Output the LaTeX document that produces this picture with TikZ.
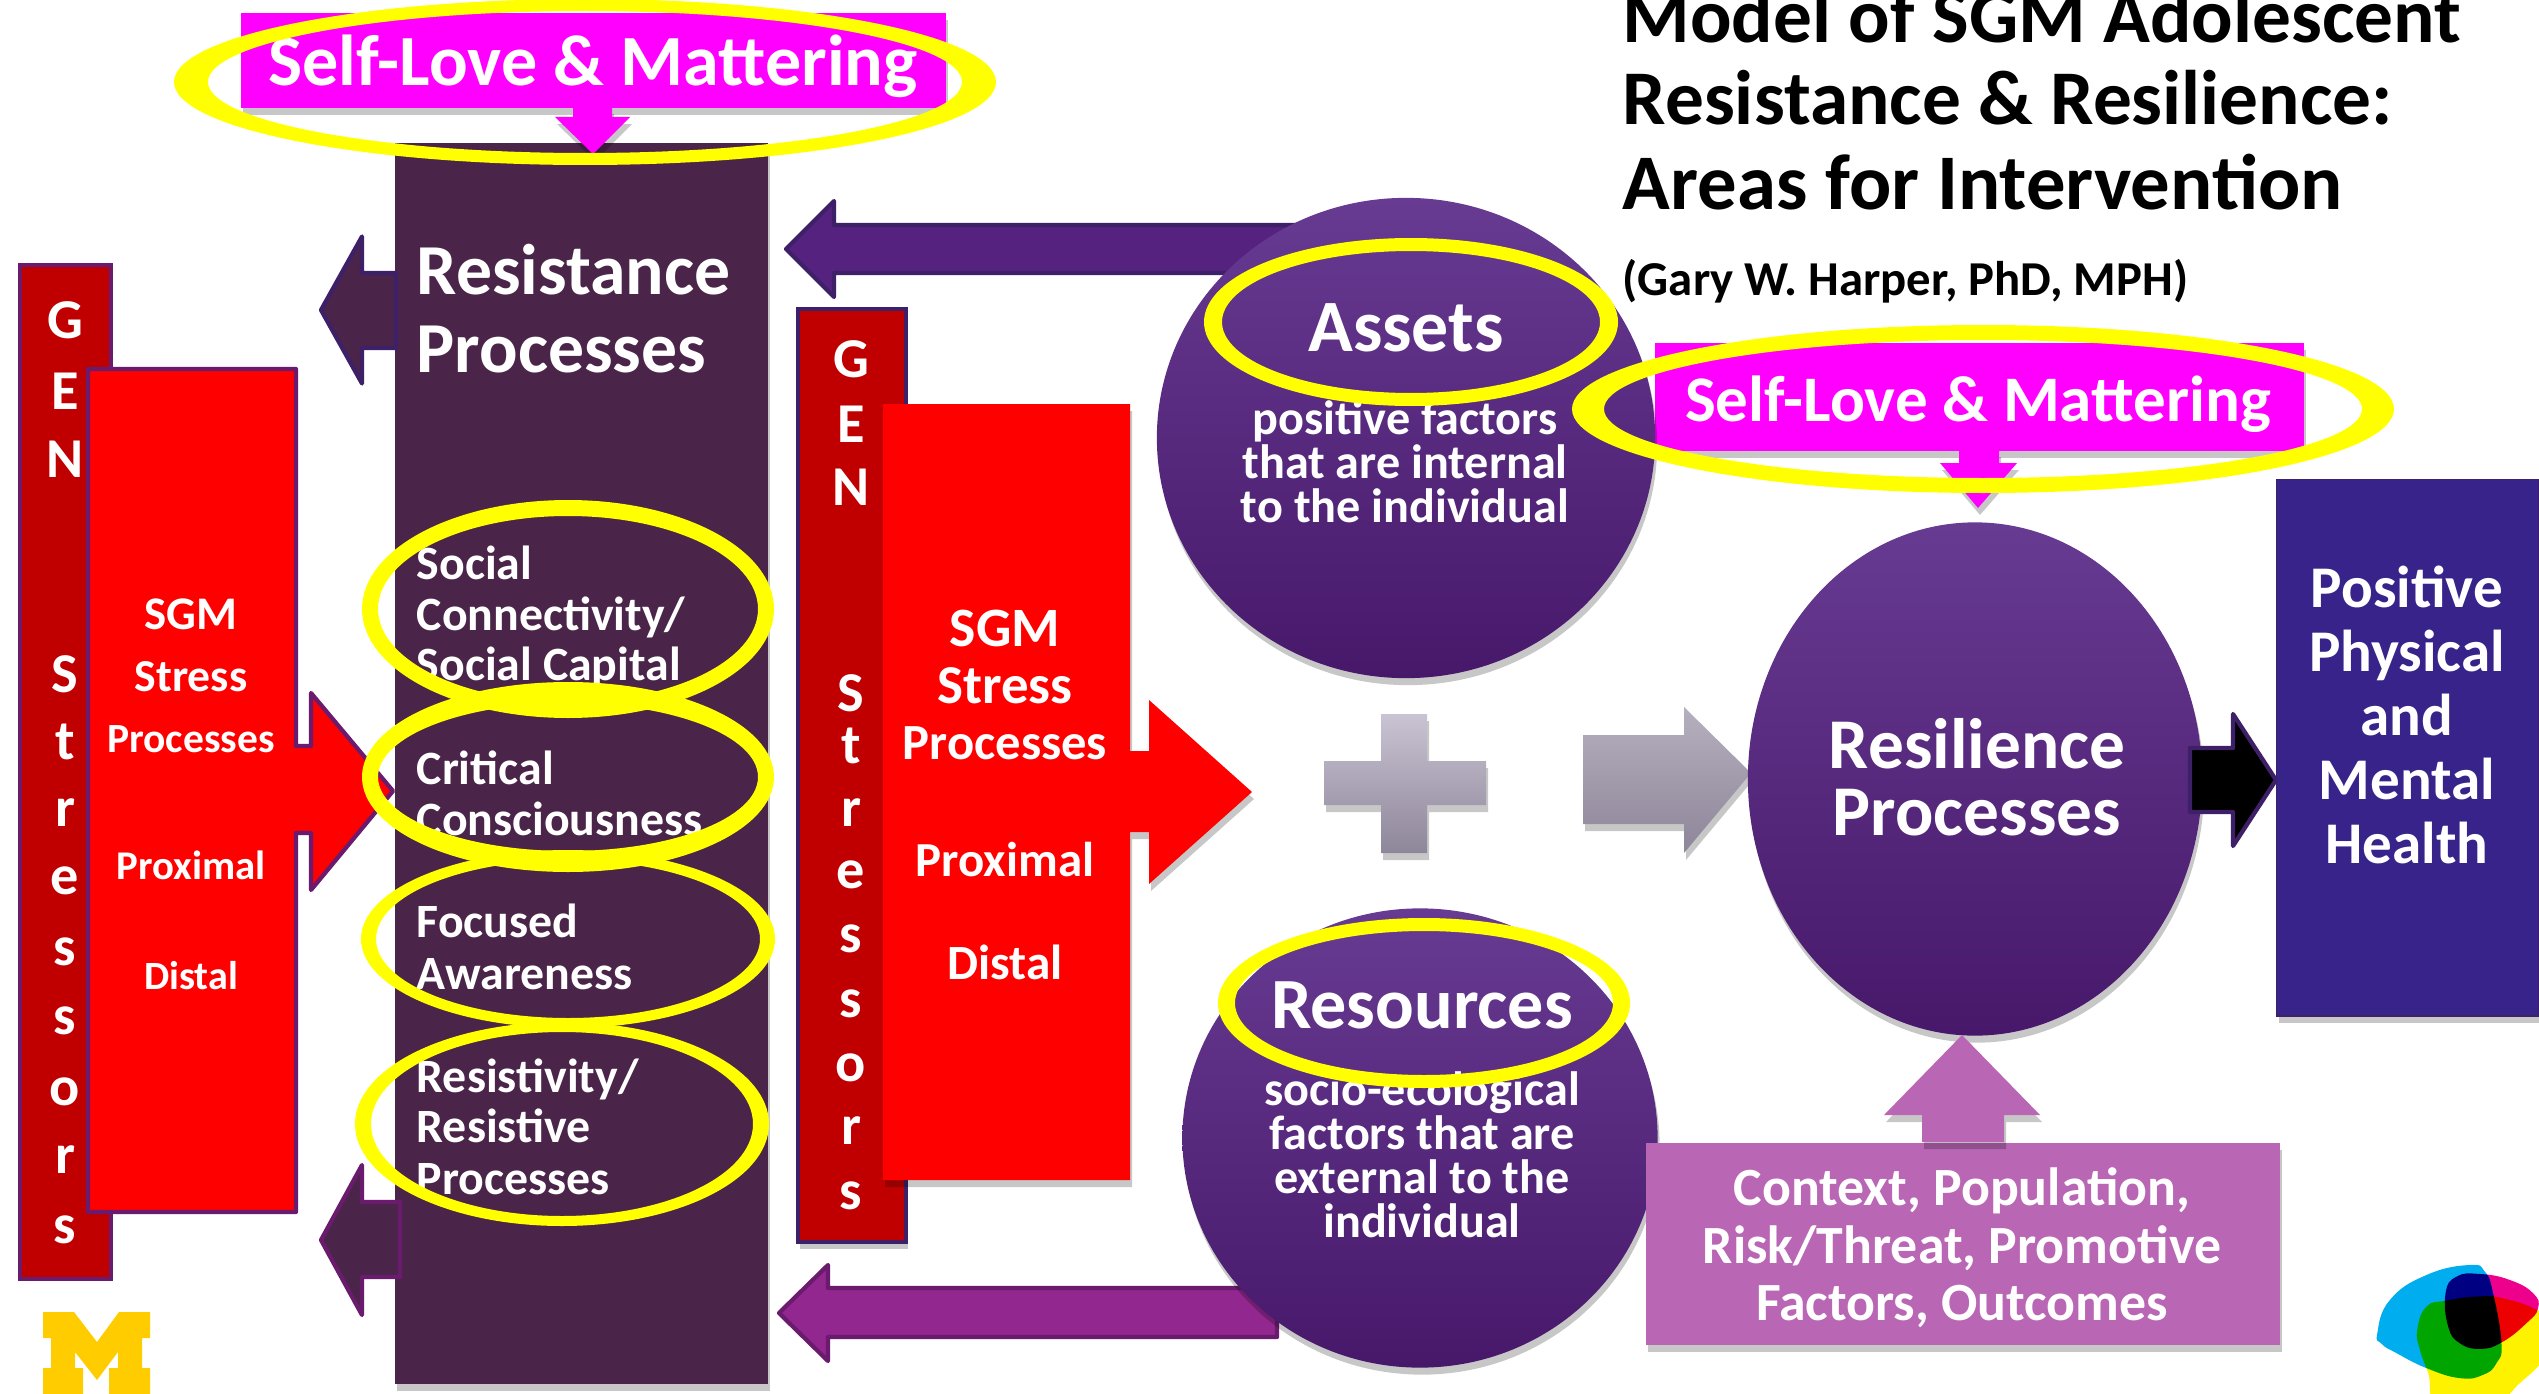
\documentclass[tikz,border=0pt]{standalone}
\usepackage{fontspec}
\setmainfont{Carlito}
\usetikzlibrary{positioning,shapes.geometric,shadows,fadings}

\definecolor{plum}{HTML}{4A2549}
\definecolor{darkred}{HTML}{C00000}
\definecolor{edgepurple}{HTML}{6A1B6E}
\definecolor{edgedeep}{HTML}{3D2068}
\definecolor{violetarrow}{HTML}{55237F}
\definecolor{magentaarrow}{HTML}{92278F}
\definecolor{orchid}{HTML}{B966B5}
\definecolor{navybox}{HTML}{37238A}
\definecolor{hotpink}{HTML}{FF00FF}
\definecolor{ringyellow}{HTML}{FFFF00}
\definecolor{globetop}{HTML}{673B92}
\definecolor{globebot}{HTML}{47186A}
\definecolor{greytop}{HTML}{C9C3D3}
\definecolor{greybot}{HTML}{8E8699}
\definecolor{michigan}{HTML}{FFCC00}
\definecolor{logocyan}{RGB}{0,174,239}
\definecolor{logomagenta}{RGB}{236,0,140}
\definecolor{logoyellow}{RGB}{255,242,0}

\newcommand{\yellowring}[6]{%
  \fill[ringyellow, even odd rule] (#1,#2) ellipse [x radius=#3, y radius=#4]
    (#1,#2) ellipse [x radius=#5, y radius=#6];}
\newcommand{\blockarrow}[8]{% tip x, tip y, head x, head half, shaft up, tail x, shaft down, style
  \path[#8] (#1,#2) -- (#3,#2-#4) -- (#3,#2-#5) -- (#6,#2-#5) -- (#6,#2+#7)
    -- (#3,#2+#7) -- (#3,#2+#4) -- cycle;}
\newcommand{\fsz}[1]{\fontsize{#1}{#1}\selectfont\bfseries}

\begin{document}
\begin{tikzpicture}[
  x=0.01cm, y=-0.01cm,
  softshadow/.style={drop shadow={shadow xshift=0.02cm, shadow yshift=-0.07cm,
                     opacity=0.22, fill=black}},
  genbox/.style={rectangle, draw=edgepurple, line width=1.2pt, fill=darkred, anchor=north west},
  globe/.style={ellipse, top color=globetop, bottom color=globebot, softshadow, inner sep=0pt},
  txt/.style={text=white, inner sep=0pt, align=center},
  itemtxt/.style={txt, anchor=west, text height=9pt, text depth=3pt, font=\fsz{13.6}},
  headtxt/.style={txt, anchor=west, text height=14pt, text depth=0pt, font=\fsz{20.4}},
  lettertxt/.style={txt, font=\fsz{16}},
  titletxt/.style={anchor=base west, inner sep=0pt, font=\fsz{22}},
  arrfill/.style={line width=1.2pt, line join=round}
]
  \useasboundingbox (0,0) rectangle (2539,1394);

  % main column and the boxes
  \node[rectangle, fill=plum, softshadow, minimum width=3.73cm, minimum height=12.41cm,
        anchor=north west, inner sep=0pt] (column) at (394,142) {};
  \node[rectangle, fill=hotpink, softshadow, minimum width=7.05cm, minimum height=0.95cm,
        anchor=north west, inner sep=0pt] (loveleft) at (240,12) {};
  \node[rectangle, fill=hotpink, softshadow, minimum width=6.49cm, minimum height=1.08cm,
        anchor=north west, inner sep=0pt] (loveright) at (1654,342) {};
  \path[fill=hotpink, softshadow] (593,154) -- (555,117) -- (573,117) -- (573,107)
    -- (612,107) -- (612,117) -- (630,117) -- cycle;
  \path[fill=hotpink, softshadow] (1978,508) -- (1940,463) -- (1959,463) -- (1959,450)
    -- (1999,450) -- (1999,463) -- (2017,463) -- cycle;

  % stressors, left
  \node[genbox, minimum width=0.91cm, minimum height=10.13cm, inner sep=0pt] (genleft) at (18,263) {};
  \path[fill=red, draw=edgepurple, arrfill] (88,369) -- (296,369) -- (296,746) -- (311,746)
    -- (311,693) -- (393,791) -- (311,890) -- (311,833) -- (296,833) -- (296,1212)
    -- (88,1212) -- cycle;

  % stressors, right
  \node[genbox, draw=edgedeep, softshadow, minimum width=1.08cm, minimum height=9.32cm, inner sep=0pt] (genright) at (796,307) {};
  \path[fill=red, softshadow] (883,404) -- (1130,404) -- (1130,751) -- (1149,751)
    -- (1149,700) -- (1252,792) -- (1149,884) -- (1149,832) -- (1130,832) -- (1130,1180)
    -- (883,1180) -- cycle;

  % arrows round the column
  \blockarrow{321}{310}{362}{73.5}{37}{396}{38}{fill=plum, draw=edgedeep, arrfill}
  \blockarrow{321}{1240}{362}{75}{38}{400}{37}{fill=plum, draw=edgepurple, arrfill}
  \blockarrow{786}{249}{834}{48}{24}{1300}{24}{fill=violetarrow, draw=edgedeep, arrfill}
  \blockarrow{779}{1313}{828}{48}{25}{1277}{24}{fill=magentaarrow, draw=edgepurple, arrfill}

  % plus sign and grey arrow
  \path[top color=greytop, bottom color=greybot, softshadow] (1381,714) -- (1427,714)
    -- (1427,761) -- (1486,761) -- (1486,805) -- (1427,805) -- (1427,853) -- (1381,853)
    -- (1381,805) -- (1324,805) -- (1324,761) -- (1381,761) -- cycle;
  \path[top color=greytop!90!black, bottom color=greybot, softshadow] (1751,773) -- (1684,707)
    -- (1684,735) -- (1583,735) -- (1583,824) -- (1684,824) -- (1684,853) -- cycle;

  % circles
  \node[globe, minimum width=4.98cm, minimum height=4.80cm] (assets) at (1406,438) {};
  \node[globe, minimum width=4.75cm, minimum height=4.59cm] (resources) at (1420,1138) {};
  \node[globe, minimum width=4.54cm, minimum height=5.13cm] (resilience) at (1975,779) {};

  % right hand boxes
  \node[rectangle, fill=navybox, draw=edgedeep, softshadow, anchor=north west, inner sep=0pt,
        minimum width=2.62cm, minimum height=5.36cm] (health) at (2276,479) {};
  \blockarrow{2276}{780}{2233}{66}{32}{2190}{32}{fill=black, draw=edgedeep, arrfill}
  \node[rectangle, fill=orchid, softshadow, anchor=north west, inner sep=0pt,
        minimum width=6.34cm, minimum height=2.02cm] (context) at (1645,1142) {};
  \path[fill=orchid, softshadow] (1962,1035) -- (2040,1115) -- (2004,1115) -- (2004,1142)
    -- (1922,1142) -- (1922,1115) -- (1884,1115) -- cycle;

  % labels
  \node[txt, font=\fsz{20.5}] (lovelefttxt) at (593,66) {Self-Love \& Mattering};
  \node[txt, font=\fsz{18.5}] (loverighttxt) at (1978,404) {Self-Love \& Mattering};
  \node[headtxt] (resisttxt) at (416,270) {Resistance};
  \node[headtxt] (procstxt) at (416,348) {Processes};
  \node[itemtxt] (social) at (416,569) {Social};
  \node[itemtxt] (connect) at (416,620) {Connectivity/};
  \node[itemtxt] (capital) at (416,670) {Social Capital};
  \node[itemtxt] (critical) at (416,774) {Critical};
  \node[itemtxt] (conscious) at (416,825) {Consciousness};
  \node[itemtxt] (focused) at (416,927) {Focused};
  \node[itemtxt] (aware) at (416,979) {Awareness};
  \node[itemtxt] (resistiv) at (416,1082) {Resistivity/};
  \node[itemtxt] (resistive) at (416,1132) {Resistive};
  \node[itemtxt] (resproc) at (416,1184) {Processes};

  \foreach \ltr/\yy in {G/320,E/391,N/459,S/674,t/742,r/813,e/881,s/952,s/1021,o/1092,r/1160,s/1230}
    \node[lettertxt] at (65,\yy) {\ltr};
  \foreach \ltr/\yy in {G/359,E/424,N/487,S/693,t/746,r/813,e/875,s/939,s/1004,o/1068,r/1131,s/1196}
    \node[lettertxt] at (851,\yy) {\ltr};
  \foreach \ltxt/\yy/\sz in {SGM/614/13.3,Stress/677/13,Processes/739/11.8,Proximal/865/11.6,Distal/976/11.4}
    \node[txt, font=\fsz{\sz}] at (191,\yy) {\ltxt};
  \foreach \ltxt/\yy/\sz in {SGM/628/15.8,Stress/686/15.6,Processes/743/14.4,Proximal/860/13.9,Distal/962/14}
    \node[txt, font=\fsz{\sz}] at (1005,\yy) {\ltxt};

  \node[txt, font=\fsz{21}] (assetstxt) at (1406,328) {Assets};
  \node[txt, font=\fontsize{13.7}{12.5}\selectfont\bfseries] (assetssub) at (1405,462)
    {positive factors\\that are internal\\to the individual};
  \node[txt, font=\fsz{20.5}] (resourcestxt) at (1422,1005) {Resources};
  \node[txt, font=\fontsize{13.7}{12.5}\selectfont\bfseries] (resourcessub) at (1422,1155)
    {socio-ecological\\factors that are\\external to the\\individual};
  \node[txt, font=\fsz{20.3}] (resiltxt) at (1977,744) {Resilience};
  \node[txt, font=\fsz{20.3}] (resilproc) at (1977,813) {Processes};
  \node[txt, font=\fontsize{16.8}{18.2}\selectfont\bfseries] (healthtxt) at (2407,715)
    {Positive\\Physical\\and\\Mental\\Health};
  \node[txt, font=\fontsize{15.3}{16.4}\selectfont\bfseries] (contexttxt) at (1962,1248)
    {Context, Population,\\Risk/Threat, Promotive\\Factors, Outcomes};

  \node[titletxt] (title1) at (1622,43) {Model of SGM Adolescent};
  \node[titletxt] (title2) at (1622,125) {Resistance \& Resilience:};
  \node[titletxt, font=\fsz{22.4}] (title3) at (1622,209) {Areas for Intervention};
  \node[anchor=west, inner sep=0pt, font=\fsz{13.85}] (author) at (1622,281)
    {(Gary W. Harper, PhD, MPH)};

  % yellow rings
  \yellowring{585}{82}{411}{83}{377}{71}
  \yellowring{1983}{409}{411}{84}{379}{69}
  \yellowring{1411}{322}{207}{84}{189}{71}
  \yellowring{1424}{1003}{206}{85}{189}{72}
  \yellowring{568}{609}{206}{109}{190}{93}
  \yellowring{568}{777}{206}{95}{190}{74}
  \yellowring{568}{939}{207}{89}{192}{79}
  \yellowring{562}{1124}{207}{102}{191}{92}

  % logos
  \fill[michigan] (43,1312) -- (74,1312) -- (97,1342) -- (119,1312) -- (150,1312) -- (150,1338)
    -- (142,1338) -- (142,1368) -- (150,1368) -- (150,1394) -- (109,1394) -- (109,1368)
    -- (118,1368) -- (118,1352) -- (97,1380) -- (75,1352) -- (75,1368) -- (83,1368)
    -- (83,1394) -- (43,1394) -- (43,1368) -- (51,1368) -- (51,1338) -- (43,1338) -- cycle;
  \begin{scope}[shift={(2360,1250)}, x=0.00333cm, y=-0.00333cm]
    \fill[logocyan, blend mode=multiply] plot[smooth cycle, tension=0.8] coordinates
      {(52,250) (90,150) (200,75) (330,45) (375,65) (400,130) (425,280) (410,340)
       (370,375) (300,385) (200,355) (110,310) (65,282)};
    \fill[logomagenta, blend mode=multiply] plot[smooth cycle, tension=0.8] coordinates
      {(257,130) (290,80) (360,72) (450,90) (520,130) (535,175) (500,220) (425,278)
       (360,297) (300,280) (265,230)};
    \fill[logoyellow, blend mode=multiply] plot[smooth cycle, tension=0.8] coordinates
      {(172,240) (200,170) (260,152) (350,140) (430,145) (540,185) (600,240) (560,320)
       (480,400) (410,450) (240,470) (205,370) (180,300)};
  \end{scope}
\end{tikzpicture}
\end{document}
